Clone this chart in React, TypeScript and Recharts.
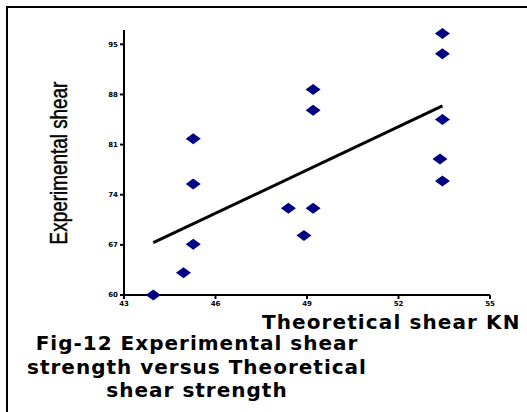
import React from "react";
import { ScatterChart, Scatter, XAxis, YAxis } from "recharts";

const theoretical = [43.96, 44.95, 45.27, 45.27, 45.27, 48.39, 48.9, 49.2, 49.2, 49.2, 53.44, 53.44, 53.44, 53.36, 53.44];
const experimental = [60, 63.1, 67.1, 75.5, 81.8, 72.1, 68.3, 72.1, 85.8, 88.7, 96.5, 93.7, 84.5, 79.0, 75.9];
const trendX = [43.96, 53.44];
const trendY = [67.3, 86.4];
const xTicks = [43, 46, 49, 52, 55];
const yTicks = [60, 67, 74, 81, 88, 95];

const points = theoretical.map((x, i) => ({ x, y: experimental[i] }));
const trend = trendX.map((x, i) => ({ x, y: trendY[i] }));

const NAVY = "#000080";
const FONT = "'DejaVu Sans', Verdana, sans-serif";

const Diamond = (props: any) => {
  const { cx, cy } = props;
  if (cx == null || cy == null) return <g />;
  return (
    <polygon
      points={`${cx - 7.5},${cy} ${cx},${cy - 5.5} ${cx + 7.5},${cy} ${cx},${cy + 5.5}`}
      fill={NAVY}
    />
  );
};

const tickStyle = { fontSize: 7, fontWeight: 700, fill: "#000", fontFamily: FONT };

export default function App() {
  return (
    <div style={{ position: "absolute", left: 0, top: 0, width: 527, height: 412, background: "#fff" }}>
      <div style={{ position: "absolute", left: 6, top: 6, width: 521, height: 406, borderLeft: "2px solid #000", borderTop: "2px solid #000" }} />
      <ScatterChart width={527} height={412} margin={{ top: 30, right: 37, left: 104, bottom: 97 }}>
        <XAxis
          type="number"
          dataKey="x"
          domain={[43, 55]}
          ticks={xTicks}
          height={20}
          stroke="#000"
          strokeWidth={2}
          tickSize={4}
          tick={tickStyle}
        />
        <YAxis
          type="number"
          dataKey="y"
          domain={[60, 97]}
          ticks={yTicks}
          width={20}
          stroke="#000"
          strokeWidth={2}
          tickSize={4}
          tick={tickStyle}
        />
        <Scatter data={points} fill={NAVY} shape={Diamond} isAnimationActive={false} />
        <Scatter
          data={trend}
          line={{ stroke: "#000", strokeWidth: 3 }}
          shape={() => <g />}
          isAnimationActive={false}
        />
      </ScatterChart>
      <div
        style={{
          position: "absolute",
          left: 59,
          top: 163,
          transform: "translate(-50%, -50%) rotate(-90deg) scale(0.9, 1.1)",
          whiteSpace: "nowrap",
          fontFamily: "'Liberation Sans Narrow', 'Arial Narrow', 'Liberation Sans', sans-serif",
          fontSize: 21,
          color: "#000",
          WebkitTextStroke: "0.4px #000",
        }}
      >
        Experimental shear
      </div>
      <div
        style={{
          position: "absolute",
          left: 262,
          top: 310,
          whiteSpace: "nowrap",
          fontFamily: FONT,
          fontWeight: 700,
          fontSize: 20,
          letterSpacing: 1.1,
          color: "#000",
        }}
      >
        Theoretical shear KN
      </div>
      <div
        style={{
          position: "absolute",
          left: 0,
          width: 394,
          top: 332,
          textAlign: "center",
          fontFamily: FONT,
          fontWeight: 700,
          fontSize: 20,
          letterSpacing: 1,
          lineHeight: "23.5px",
          color: "#000",
        }}
      >
        Fig-12 Experimental shear
        <br />
        strength versus Theoretical
        <br />
        shear strength
      </div>
    </div>
  );
}
